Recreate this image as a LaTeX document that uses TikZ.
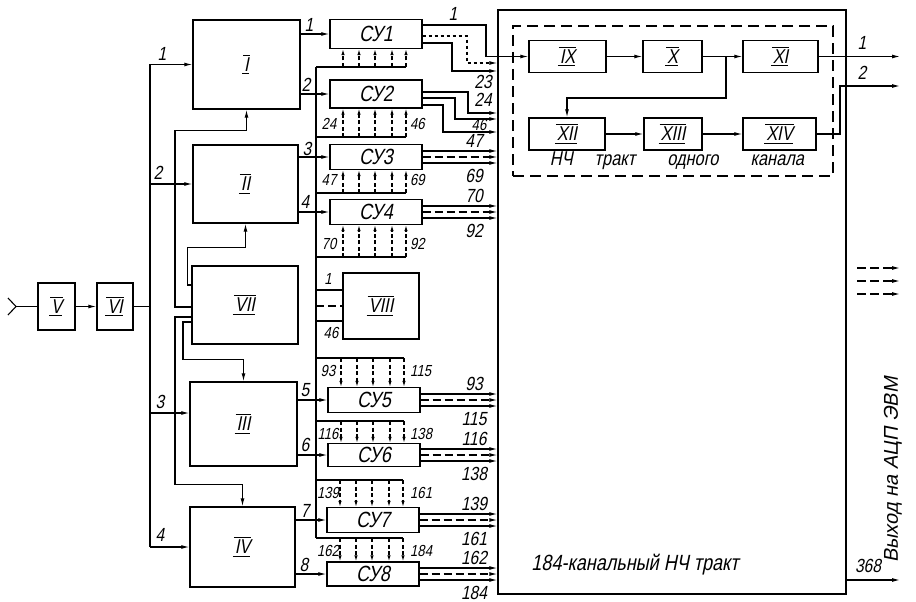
\documentclass[tikz,border=0pt]{standalone}
\usepackage{fontspec}
\setmainfont{Liberation Sans}[FakeSlant=0.2,FakeStretch=0.82]
\newfontfamily\widefont{Liberation Sans}[FakeSlant=0.2]
\usetikzlibrary{arrows.meta}
\newcommand{\fsz}[1]{\fontsize{#1}{#1}\selectfont}
\newsavebox{\rmnbox}
\newcommand{\rmn}[1]{\sbox{\rmnbox}{#1}%
  \rlap{\kern-1pt\rule[\dimexpr\ht\rmnbox+1.5pt\relax]{\dimexpr\wd\rmnbox+2pt\relax}{1pt}}%
  \rlap{\kern-2pt\rule[-2.8pt]{\dimexpr\wd\rmnbox+2pt\relax}{1pt}}\usebox{\rmnbox}}

\begin{document}
\begin{tikzpicture}[x=1pt, y=-1pt, >={Latex[length=8pt,width=4pt]},
  blk/.style={draw, line width=1.4pt, inner sep=0pt, font=\fsz{20}},
  su/.style={blk, minimum width=92pt, font=\fsz{22}},
  wire/.style={line width=1.1pt},
  lbl/.style={inner sep=0pt, font=\fsz{19}},
  sml/.style={inner sep=0pt, font=\fsz{16}},
  ctl/.style={wire, ->, dash pattern=on 4pt off 2.5pt, >={Latex[length=6pt,width=3.5pt]}}]
\useasboundingbox (0,0) rectangle (916,602);

% stage blocks
\node[blk, minimum width=37pt, minimum height=47pt] (b5) at (56.5,306.5) {\rmn{V}};
\node[blk, minimum width=36pt, minimum height=47pt] (b6) at (115,306.5) {\rmn{VI}};
\node[blk, minimum width=107pt, minimum height=89pt] (b1) at (246.5,64.5) {\rmn{I}};
\node[blk, minimum width=105pt, minimum height=78pt] (b2) at (245.5,184) {\rmn{II}};
\node[blk, minimum width=106pt, minimum height=78pt] (b7) at (245,305) {\rmn{VII}};
\node[blk, minimum width=107pt, minimum height=84pt] (b3) at (243.5,424) {\rmn{III}};
\node[blk, minimum width=105pt, minimum height=80pt] (b4) at (242.5,547) {\rmn{IV}};
\node[blk, minimum width=76pt, minimum height=66pt] (b8) at (381,306) {\rmn{VIII}};
\foreach \n/\x/\y/\h in {1/376/34/29, 2/376/94/28, 3/376/157/25, 4/376/212/25,
                         5/374/400/25, 6/374/455/23, 7/373/520/25, 8/373/574/24}
  \node[su, minimum height=\h pt] (su\n) at (\x,\y) {СУ\n};

% input and trunk
\coordinate (in) at (16,306.5);
\coordinate (ltop) at (150,64.5);
\coordinate (lbot) at (150,547);
\draw[wire] (8,298) -- (in) -- (8,315);
\draw[wire] (in) -- (b5.west);
\draw[wire,->] (b5) -- (b6);
\draw[wire] (b6.east) -- (b6 -| ltop);
\draw[wire] (ltop) -- (lbot);
\draw[wire,->] (ltop) -- (b1.west);
\draw[wire,->] (ltop |- b2.west) -- (b2.west);
\draw[wire,->] (ltop |- 0,413) -- (b3.west |- 0,413);
\draw[wire,->] (lbot) -- (b4.west);
\foreach \t/\x/\y in {1/162/54, 2/158/173, 3/160/402, 4/160/535}
  \node[lbl] at (\x,\y) {\t};

% control links of VII
\draw[wire,->] ([yshift=20pt]b7.west) -- ++(-4,0) |- ([yshift=-24pt]b2.south) -- (b2.south);
\draw[wire,->] ([yshift=-2pt]b7.west) -- (175,307) |- ([yshift=-21pt]b1.south) -- (b1.south);
\draw[wire,->] ([yshift=-12pt]b7.west) -- (175,317) |- ([yshift=22pt]b4.north) -- (b4.north);
\draw[wire,->] ([yshift=-17pt]b7.west) -- (183,322) |- ([yshift=22pt]b3.north) -- (b3.north);

% stage outputs
\foreach \b/\n in {b1/1, b1/2, b2/3, b2/4, b3/5, b3/6, b4/7, b4/8}
  \draw[wire,->] (\b.east |- su\n) -- (su\n.west);
\foreach \n/\x/\y in {1/309/25, 2/306/85, 3/307/149, 4/305/202,
                      5/305/390, 6/305/445, 7/305/511, 8/304/565}
  \node[lbl] at (\x,\y) {\n};

% bus of the control inputs
\coordinate (bus) at (316,67);
\draw[wire] (bus) -- (316,538);
\foreach \s/\y/\lo/\hi in {su1/67/{}/{}, su2/137/24/46, su3/193/47/69, su4/257/70/92} {
  \path (\s.south) ++(30,0) coordinate (se);
  \draw[wire] (bus |- 0,\y) -- (se |- 0,\y);
  \foreach \dx in {-33,-17,-1,16,30} {
    \path (\s.south) ++(\dx,0) coordinate (tip);
    \draw[ctl] (tip |- 0,\y) -- (tip);
  }
  \node[sml] at (329,\y-13) {\lo};
  \node[sml, anchor=west] at (410,\y-13) {\hi};
}
\foreach \s/\y/\lo/\hi in {su5/358/93/115, su6/421/116/138, su7/480/139/161, su8/538/162/184} {
  \path (\s.north) ++(30,0) coordinate (se);
  \draw[wire] (bus |- 0,\y) -- (se |- 0,\y);
  \foreach \dx in {-33,-17,-1,16,30} {
    \path (\s.north) ++(\dx,0) coordinate (tip);
    \draw[ctl] (tip |- 0,\y) -- (tip);
  }
  \node[sml] at (328,\y+13) {\lo};
  \node[sml, anchor=west] at (410,\y+13) {\hi};
}

% VIII inputs
\draw[wire] (bus |- 0,290) -- (b8.west |- 0,290);
\draw[wire, dash pattern=on 8pt off 4pt] (bus |- 0,306) -- (b8.west |- 0,306);
\draw[wire] (bus |- 0,321) -- (b8.west |- 0,321);
\node[sml] at (328,279) {1};
\node[sml] at (331,333) {46};

% 184-channel tract
\node[draw, line width=1.4pt, inner sep=0pt, minimum width=348pt, minimum height=584pt] (big) at (672,302) {};
\node[draw, line width=1.4pt, dash pattern=on 11pt off 6pt, inner sep=0pt,
      minimum width=320pt, minimum height=150pt] (chan) at (673,101) {};
\foreach \n/\r/\x/\y/\w in {9/IX/567.5/56.5/77, 10/X/672.5/56.5/59, 11/XI/780.5/56.5/75,
                            12/XII/567/134/76, 13/XIII/673/134/58, 14/XIV/779.5/134/73}
  \node[blk, minimum width=\w pt, minimum height=32pt] (b\n) at (\x,\y) {\rmn{\r}};
\draw[wire,->] (b9) -- (b10);
\draw[wire,->] (b10) -- (b11);
\draw[wire,->] (b12) -- (b13);
\draw[wire,->] (b13) -- (b14);
\coordinate (br) at (726,56.5);
\draw[wire,->] (br) -- (726,98) -| (b12.north);
\node[font=\fsz{20}] (chantxt) at (677,161) {НЧ\hspace{1.1em}тракт\hspace{1.6em}одного\hspace{1.6em}канала};
\node[font=\fsz{22}] (bigtxt) at (635,565) {184-канальный НЧ тракт};

% SU outputs into the tract
\draw[wire,->] ([yshift=9pt]su1.east) -- (486,25) |- (b9.west);
\draw[wire,dashed,->] ([yshift=-2pt]su1.east) -- (467,36) |- (big.west |- 0,63);
\draw[wire,->] ([yshift=-9pt]su1.east) -- (452,43) |- (big.west |- 0,71);
\draw[wire,->] (su2.east |- 0,92) -- (468,92) |- (big.west |- 0,113);
\draw[wire,->] (su2.east |- 0,98) -- (455,98) |- (big.west |- 0,119);
\draw[wire,->] (su2.east |- 0,105) -- (443,105) |- (big.west |- 0,132);
\node[lbl] at (453,14) {1};
\node[lbl] at (483,82) {23};
\node[lbl] at (483,100) {24};
\node[sml] at (479,125) {46};
\foreach \s/\y/\lo/\hi in {su3/157/47/69, su4/212/70/92, su5/400/93/115,
                           su6/455/116/138, su7/520/139/161, su8/574/162/184} {
  \draw[wire,->] (\s.east |- 0,\y-6) -- (big.west |- 0,\y-6);
  \draw[wire,->,dash pattern=on 8pt off 4pt] (\s.east |- 0,\y) -- (big.west |- 0,\y);
  \draw[wire,->] (\s.east |- 0,\y+6) -- (big.west |- 0,\y+6);
  \node[lbl] at (474,\y-16) {\lo};
  \node[lbl] at (474,\y+19) {\hi};
}

% outputs
\coordinate (out1) at (900,56.5);
\coordinate (out2) at (900,86);
\coordinate (out3) at (900,580);
\draw[wire,->] (b11.east) -- (out1);
\draw[wire,->] (b14.east) -- (840,134) |- (out2);
\foreach \y in {268,281,294}
  \draw[wire,->,dash pattern=on 9pt off 4pt] (857,\y) -- (900,\y);
\draw[wire,->] (big.east |- out3) -- (out3);
\node[lbl] at (862,43) {1};
\node[lbl] at (862,73) {2};
\node[lbl] at (868,566) {368};
\node[font=\widefont\fsz{20}, rotate=90] (outtxt) at (893,470) {Выход на АЦП ЭВМ};
\end{tikzpicture}
\end{document}
